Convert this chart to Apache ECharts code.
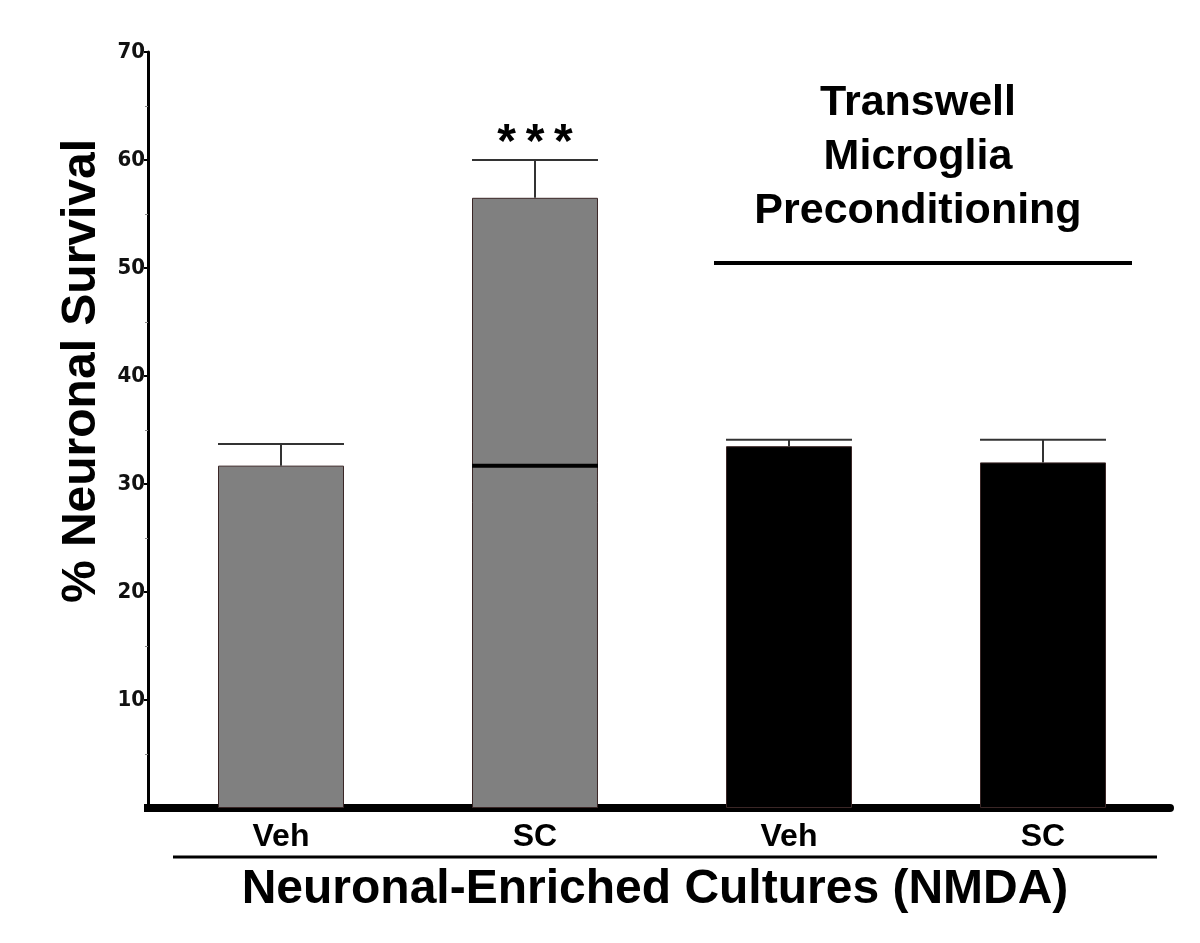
<!DOCTYPE html>
<html>
<head>
<meta charset="utf-8">
<script src="https://cdn.jsdelivr.net/npm/echarts@6/dist/echarts.min.js"></script>
<style>
  html, body { margin: 0; padding: 0; background: #fff; }
  #chart { width: 1200px; height: 943px; }
</style>
</head>
<body>
<div id="chart"></div>
<script>
// data
var categories = ['Veh', 'SC', 'Veh', 'SC'];
var means = [31.7, 56.5, 33.5, 32.0];
var upperErr = [33.7, 60.0, 34.1, 34.1];
var barColors = ['#808080', '#808080', '#000000', '#000000'];
var sigLabels = ['', '*\u2009*\u2009*', '', ''];
var refLevel = 31.7;       // Veh level drawn over the SC bar
var yTicks = [0, 70, 10];  // min, max, interval

var FONT = '"Liberation Sans", Arial, sans-serif';
var NARROW = '"Liberation Sans Narrow", "DejaVu Sans Condensed", sans-serif';

var chart = echarts.init(document.getElementById('chart'));

var errData = categories.map(function (c, i) { return [i, means[i], upperErr[i], sigLabels[i]]; });

chart.setOption({
    animation: false,
    grid: { left: 154, right: 30, top: 52, bottom: 135 },
    xAxis: {
        type: 'category',
        data: categories,
        axisLine: { lineStyle: { color: '#000', width: 8 } },
        axisTick: { show: false },
        axisLabel: { color: '#000', fontFamily: FONT, fontWeight: 'bold', fontSize: 32, margin: 13 }
    },
    yAxis: {
        type: 'value',
        offset: 6,
        min: yTicks[0], max: yTicks[1], interval: yTicks[2],
        axisLine: { show: true, lineStyle: { color: '#000', width: 3 } },
        axisTick: { show: true, length: 4, lineStyle: { color: '#000', width: 2 } },
        minorTick: { show: true, splitNumber: 2, length: 3, lineStyle: { color: '#888' } },
        splitLine: { show: false },
        axisLabel: {
            color: '#111', fontFamily: NARROW, fontWeight: 'bold', fontSize: 22, margin: 3,
            formatter: function (v) { return v === 0 ? '' : v; }
        }
    },
    series: [
        {
            type: 'bar',
            barWidth: '49.6%',
            data: means.map(function (v, i) {
                return { value: v, itemStyle: { color: barColors[i], borderColor: '#3a2626', borderWidth: 1 } };
            }),
            z: 2
        },
        {
            // error bars, caps span the bar
            type: 'custom',
            data: errData,
            z: 3,
            renderItem: function (params, api) {
                var x = api.value(0);
                var top = api.coord([x, api.value(1)]);
                var hi = api.coord([x, api.value(2)]);
                var half = api.size([1, 0])[0] * 0.496 / 2;
                var children = [
                    { type: 'line', shape: { x1: top[0], y1: top[1], x2: hi[0], y2: hi[1] }, style: { stroke: '#333', lineWidth: 2 } },
                    { type: 'line', shape: { x1: hi[0] - half, y1: hi[1], x2: hi[0] + half, y2: hi[1] }, style: { stroke: '#333', lineWidth: 2 } }
                ];
                var lbl = errData[params.dataIndex][3];
                if (lbl) {
                    children.push({ type: 'text', x: hi[0], y: hi[1] + 8, style: { text: lbl, fill: '#000', font: 'bold 48px ' + FONT, align: 'center', verticalAlign: 'bottom' } });
                }
                return { type: 'group', children: children };
            }
        },
        {
            // reference line across the SC bar
            type: 'custom',
            data: [[1, refLevel]],
            z: 4,
            renderItem: function (params, api) {
                var p = api.coord([api.value(0), api.value(1)]);
                var half = api.size([1, 0])[0] * 0.496 / 2;
                return { type: 'line', shape: { x1: p[0] - half, y1: p[1], x2: p[0] + half, y2: p[1] }, style: { stroke: '#000', lineWidth: 4 } };
            }
        }
    ],
    graphic: [
        { type: 'line', shape: { x1: 144, y1: 808, x2: 158, y2: 808 }, style: { stroke: '#000', lineWidth: 8 } },
        { type: 'text', rotation: Math.PI / 2, x: 82, y: 371, style: { text: '% Neuronal Survival', fill: '#000', font: 'bold 48px ' + FONT, align: 'center', verticalAlign: 'middle' } },
        { type: 'text', style: { x: 918, y: 76, text: 'Transwell\nMicroglia\nPreconditioning', fill: '#000', font: 'bold 43px ' + FONT, align: 'center', lineHeight: 54 } },
        { type: 'line', shape: { x1: 714, y1: 263, x2: 1132, y2: 263 }, style: { stroke: '#000', lineWidth: 4 } },
        { type: 'line', shape: { x1: 173, y1: 857, x2: 1157, y2: 857 }, style: { stroke: '#000', lineWidth: 3 } },
        { type: 'text', style: { x: 655, y: 866, text: 'Neuronal-Enriched Cultures (NMDA)', fill: '#000', font: 'bold 48px ' + FONT, align: 'center' } }
    ]
});
</script>
</body>
</html>
